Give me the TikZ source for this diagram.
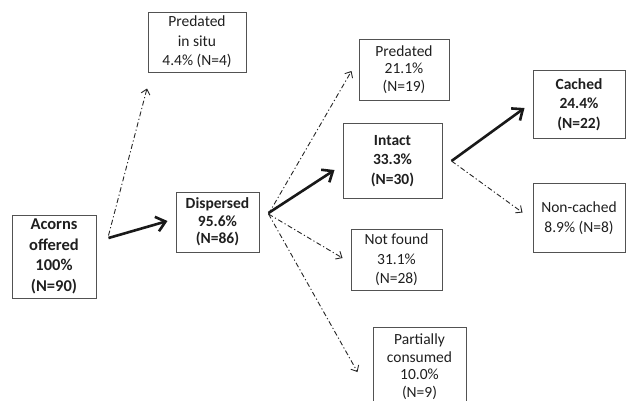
\documentclass[tikz,border=0pt]{standalone}
\usepackage{fontspec}
\setmainfont{Carlito}
\usetikzlibrary{arrows.meta,calc}
\begin{document}
\begin{tikzpicture}[x=1pt,y=-1pt,
  box/.style={draw=black!68, line width=1pt, align=center, inner sep=0pt, text=black!88,
    font=\fontsize{15.5}{19.5}\selectfont},
  tight/.style={font=\fontsize{15.5}{17.5}\selectfont},
  bigb/.style={font=\fontsize{16.5}{20.5}\selectfont\bfseries},
  boldb/.style={font=\fontsize{15.5}{19.5}\selectfont\bfseries},
  boldtight/.style={font=\fontsize{15.5}{17.5}\selectfont\bfseries},
  mainarrow/.style={line width=2.6pt, black!90, -{Straight Barb[length=9pt,width=15pt,line width=2.6pt]}},
  sidearrow/.style={line width=0.9pt, black!85, dash pattern=on 5pt off 2.5pt on 1.2pt off 2.5pt,
    -{Straight Barb[length=5pt,width=9pt,line width=0.9pt]}}
]
\useasboundingbox (0,0) rectangle (634,400);

\node[box, bigb, minimum width=84pt, minimum height=83pt] (acorns) at (54,256.5)
  {Acorns\\offered\\100\%\\(N=90)};
\node[box, minimum width=98pt, minimum height=60pt] (pis) at (197,42)
  {Predated\\in situ\\4.4\% (N=4)};
\node[box, boldtight, minimum width=83pt, minimum height=60pt] (disp) at (217.5,222)
  {Dispersed\\95.6\%\\(N=86)};
\node[box, tight, minimum width=90pt, minimum height=61pt] (pred) at (404,69.5)
  {Predated\\21.1\%\\(N=19)};
\node[box, boldb, minimum width=99pt, minimum height=75pt] (intact) at (392.5,161)
  {Intact\\33.3\%\\(N=30)};
\node[box, minimum width=91pt, minimum height=61pt] (notfound) at (396.5,260)
  {Not found\\31.1\%\\(N=28)};
\node[box, tight, minimum width=93pt, minimum height=78pt] (partial) at (419.5,366.5)
  {Partially\\consumed\\10.0\%\\(N=9)};
\node[box, boldb, minimum width=92pt, minimum height=68pt] (cached) at (579,104.5)
  {Cached\\24.4\%\\(N=22)};
\node[box, minimum width=92pt, minimum height=69pt] (noncached) at (579,218)
  {Non-cached\\8.9\% (N=8)};

% connectors
\draw[sidearrow] ($(acorns.east)+(12,-21)$) -- ($(pis.south)+(-50,16)$);
\draw[mainarrow] ($(acorns.east)+(12,-18.5)$) -- ($(disp.west)+(-8,-1)$);
\draw[sidearrow] ($(disp.east)+(9,-8)$) -- ($(pred.west)+(-7,1.5)$);
\draw[mainarrow] ($(disp.east)+(9,-9)$) -- ($(intact.west)+(-8,9)$);
\draw[sidearrow] ($(disp.east)+(9,-8)$) -- ($(notfound.west)+(-8,-2)$);
\draw[sidearrow] ($(disp.east)+(9,-8)$) -- ($(partial.west)+(-15,5.5)$);
\draw[mainarrow] ($(intact.east)+(9,0)$) -- ($(cached.west)+(-8,3.5)$);
\draw[sidearrow] ($(intact.east)+(9,0)$) -- ($(noncached.west)+(-10,-5.5)$);
\end{tikzpicture}
\end{document}
